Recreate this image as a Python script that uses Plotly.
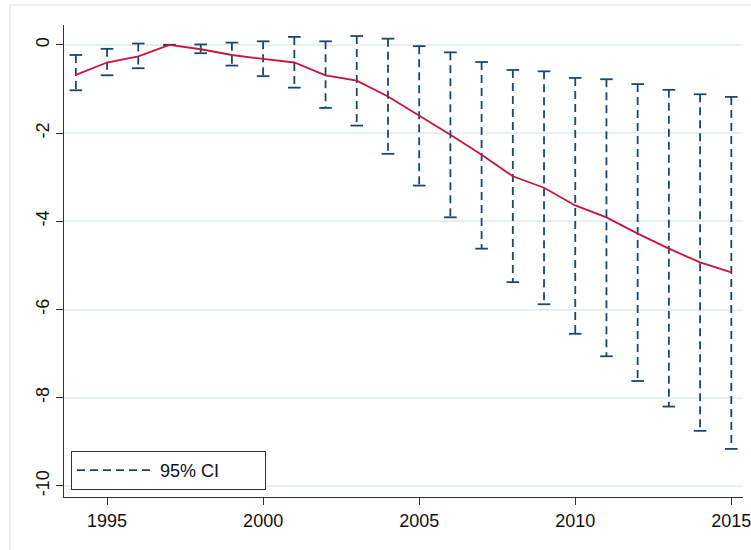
import plotly.graph_objects as go

years = list(range(1994, 2016))
estimate = [-0.68, -0.40, -0.26, 0.0, -0.10, -0.23, -0.32, -0.40, -0.69, -0.81, -1.17,
            -1.60, -2.04, -2.49, -2.98, -3.24, -3.64, -3.91, -4.28, -4.62, -4.93, -5.16]
ci_upper = [-0.23, -0.09, 0.03, 0.0, 0.01, 0.05, 0.08, 0.18, 0.08, 0.20, 0.14,
            -0.03, -0.17, -0.39, -0.57, -0.60, -0.75, -0.78, -0.89, -1.02, -1.12, -1.18]
ci_lower = [-1.03, -0.69, -0.53, 0.0, -0.19, -0.47, -0.71, -0.97, -1.43, -1.83, -2.47,
            -3.19, -3.91, -4.62, -5.38, -5.88, -6.55, -7.06, -7.62, -8.20, -8.75, -9.16]
x_ticks = [1995, 2000, 2005, 2010, 2015]
y_ticks = [0, -2, -4, -6, -8, -10]

NAVY = "#1a476f"
RED = "#c8143c"
GRID = "#e8eff1"
FONT = "Liberation Sans, Arial, sans-serif"

ci_x, ci_y = [], []
for yr, hi, lo in zip(years, ci_upper, ci_lower):
    ci_x += [yr, yr, None]
    ci_y += [hi, lo, None]

fig = go.Figure()
fig.add_hline(y=0, line=dict(color=RED, width=1.8), layer="below")
fig.add_trace(go.Scatter(x=ci_x, y=ci_y, mode="lines", name="95% CI",
                         line=dict(color=NAVY, width=1.8, dash="8px,5px"),
                         showlegend=True))
fig.add_trace(go.Scatter(x=years + years, y=ci_upper + ci_lower, mode="markers",
                         marker=dict(symbol="line-ew", size=9,
                                     line=dict(color=NAVY, width=1.8)),
                         showlegend=False, hoverinfo="skip"))
fig.add_trace(go.Scatter(x=years, y=estimate, mode="lines",
                         line=dict(color=RED, width=1.8), showlegend=False))

fig.add_shape(type="rect", xref="paper", yref="paper",
              x0=-0.0796, x1=1.2, y0=-0.3, y1=1.0424,
              line=dict(color="#e6edf0", width=1.5), layer="below")

fig.update_layout(
    width=751, height=550,
    margin=dict(l=64, r=8, t=25, b=53, autoexpand=False),
    paper_bgcolor="white", plot_bgcolor="white",
    font=dict(family=FONT, size=18, color="#111"),
    showlegend=True,
    legend=dict(x=0.0103, y=0.0148, xanchor="left", yanchor="bottom",
                orientation="h",
                bordercolor="#333", borderwidth=1, bgcolor="white",
                font=dict(size=18), itemwidth=78, entrywidth=100),
)
fig.update_xaxes(range=[1993.62, 2015.375], tickvals=x_ticks, automargin=False,
                 showgrid=False, zeroline=False, ticklabeloverflow="allow",
                 showline=True, linecolor="#333", linewidth=1,
                 ticks="outside", ticklen=7, tickcolor="#333")
fig.update_yaxes(range=[-10.25, 0.45], tickvals=y_ticks, ticktext=[str(v) for v in y_ticks],
                 tickangle=-90, showgrid=True, gridcolor=GRID, gridwidth=1.5, automargin=False,
                 zeroline=False, showline=True, linecolor="#333", linewidth=1,
                 ticks="outside", ticklen=7, tickcolor="#333")

fig.write_html("out.html")
